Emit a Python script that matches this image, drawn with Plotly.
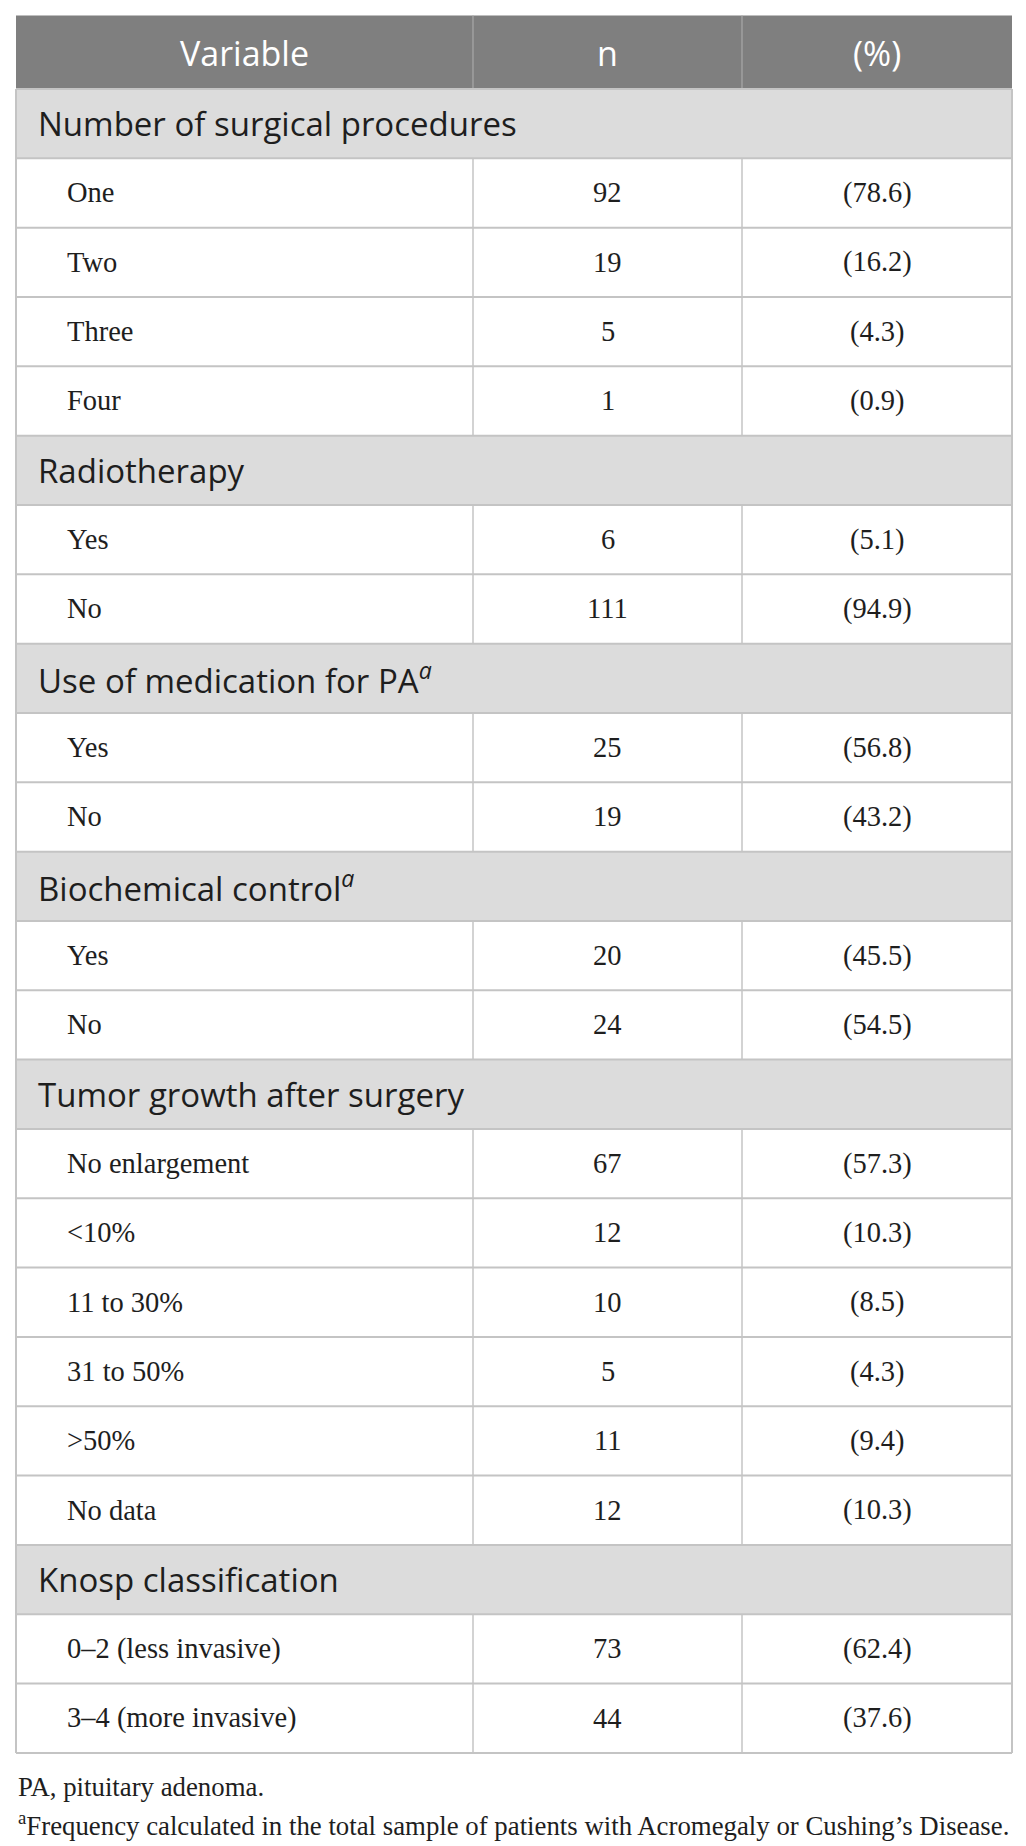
import plotly.graph_objects as go

# table content
columns = ["Variable", "n", "(%)"]

section_titles = [
    "Number of surgical procedures",
    "Radiotherapy",
    "Use of medication for PA<sup><i>a</i></sup>",
    "Biochemical control<sup><i>a</i></sup>",
    "Tumor growth after surgery",
    "Knosp classification",
]

surgery_labels = ["One", "Two", "Three", "Four"]
surgery_n = [92, 19, 5, 1]
surgery_pct = [78.6, 16.2, 4.3, 0.9]

radio_labels = ["Yes", "No"]
radio_n = [6, 111]
radio_pct = [5.1, 94.9]

medication_labels = ["Yes", "No"]
medication_n = [25, 19]
medication_pct = [56.8, 43.2]

biochem_labels = ["Yes", "No"]
biochem_n = [20, 24]
biochem_pct = [45.5, 54.5]

growth_labels = ["No enlargement", "&lt;10%", "11 to 30%", "31 to 50%", "&gt;50%", "No data"]
growth_n = [67, 12, 10, 5, 11, 12]
growth_pct = [57.3, 10.3, 8.5, 4.3, 9.4, 10.3]

knosp_labels = ["0–2 (less invasive)", "3–4 (more invasive)"]
knosp_n = [73, 44]
knosp_pct = [62.4, 37.6]

footnotes = [
    "PA, pituitary adenoma.",
    "<sup>a</sup>Frequency calculated in the total sample of patients with Acromegaly or Cushing’s Disease.",
]

groups = [
    (surgery_labels, surgery_n, surgery_pct),
    (radio_labels, radio_n, radio_pct),
    (medication_labels, medication_n, medication_pct),
    (biochem_labels, biochem_n, biochem_pct),
    (growth_labels, growth_n, growth_pct),
    (knosp_labels, knosp_n, knosp_pct),
]

# flatten into rows: ("section", title) or ("data", label, n, pct)
rows = []
for title, (labels, ns, pcts) in zip(section_titles, groups):
    rows.append(("section", title))
    for lab, n, p in zip(labels, ns, pcts):
        rows.append(("data", lab, n, p))

# geometry (pixel-like units)
W, H = 1026, 1846
x0, x1, x2, x3 = 16, 473, 742, 1012
top = 15.5
head_h = 73.5
row_h = 69.33

HEAD_BG = "#7f7f7f"
SEC_BG = "#dcdcdc"
LINE = "#c4c4c4"
TXT = "#1e1e1e"
SANS = "Open Sans"
SERIF = "Liberation Serif"

fig = go.Figure()
shapes = []
annots = []

# header
hb = top + head_h
shapes.append(dict(type="rect", x0=x0, x1=x3, y0=top, y1=hb, fillcolor=HEAD_BG, line_width=0, layer="below"))
for xa in (x1, x2):
    shapes.append(dict(type="line", x0=xa, x1=xa, y0=top, y1=hb, line=dict(color="#a8a8a8", width=1.2)))
for (ca, cb), name in zip([(x0, x1), (x1, x2), (x2, x3)], columns):
    annots.append(dict(x=(ca + cb) / 2, y=(top + hb) / 2 + 1, text=name, showarrow=False,
                       xanchor="center", yanchor="middle",
                       font=dict(family=SANS, size=34, color="white")))

# body rows
for i, r in enumerate(rows):
    ya = hb + i * row_h
    yb = ya + row_h
    ym = (ya + yb) / 2
    if r[0] == "section":
        shapes.append(dict(type="rect", x0=x0, x1=x3, y0=ya, y1=yb, fillcolor=SEC_BG, line_width=0, layer="below"))
        annots.append(dict(x=x0 + 20, y=ym, text=r[1], showarrow=False, xanchor="left", yanchor="middle",
                           font=dict(family=SANS, size=33, color=TXT)))
    else:
        _, lab, n, p = r
        for xa in (x1, x2):
            shapes.append(dict(type="line", x0=xa, x1=xa, y0=ya, y1=yb, line=dict(color=LINE, width=1.5)))
        annots.append(dict(x=x0 + 49, y=ym, text=lab, showarrow=False, xanchor="left", yanchor="middle",
                           font=dict(family=SERIF, size=28.5, color=TXT)))
        annots.append(dict(x=(x1 + x2) / 2, y=ym, text=str(n), showarrow=False, xanchor="center", yanchor="middle",
                           font=dict(family=SERIF, size=28.5, color=TXT)))
        annots.append(dict(x=(x2 + x3) / 2, y=ym, text=f"({p:.1f})", showarrow=False, xanchor="center",
                           yanchor="middle", font=dict(family=SERIF, size=28.5, color=TXT)))
    shapes.append(dict(type="line", x0=x0, x1=x3, y0=yb, y1=yb, line=dict(color=LINE, width=2)))

bottom = hb + len(rows) * row_h
# outer sides
for xa in (x0, x3):
    shapes.append(dict(type="line", x0=xa, x1=xa, y0=hb, y1=bottom, line=dict(color=LINE, width=2)))
shapes.append(dict(type="line", x0=x0, x1=x3, y0=hb, y1=hb, line=dict(color=LINE, width=2)))

# footnotes
for k, note in enumerate(footnotes):
    annots.append(dict(x=x0, y=bottom + 34 + k * 37, text=note, showarrow=False, xanchor="left", yanchor="middle",
                       font=dict(family=SERIF, size=26.8, color=TXT)))

fig.update_layout(
    width=W, height=H,
    margin=dict(l=0, r=0, t=0, b=0),
    paper_bgcolor="white", plot_bgcolor="white",
    xaxis=dict(range=[0, W], visible=False, fixedrange=True),
    yaxis=dict(range=[H, 0], visible=False, fixedrange=True),
    shapes=shapes, annotations=annots,
    showlegend=False,
)

fig.write_html("out.html", config={"displayModeBar": False},
               post_script="document.body.style.margin='0';")
